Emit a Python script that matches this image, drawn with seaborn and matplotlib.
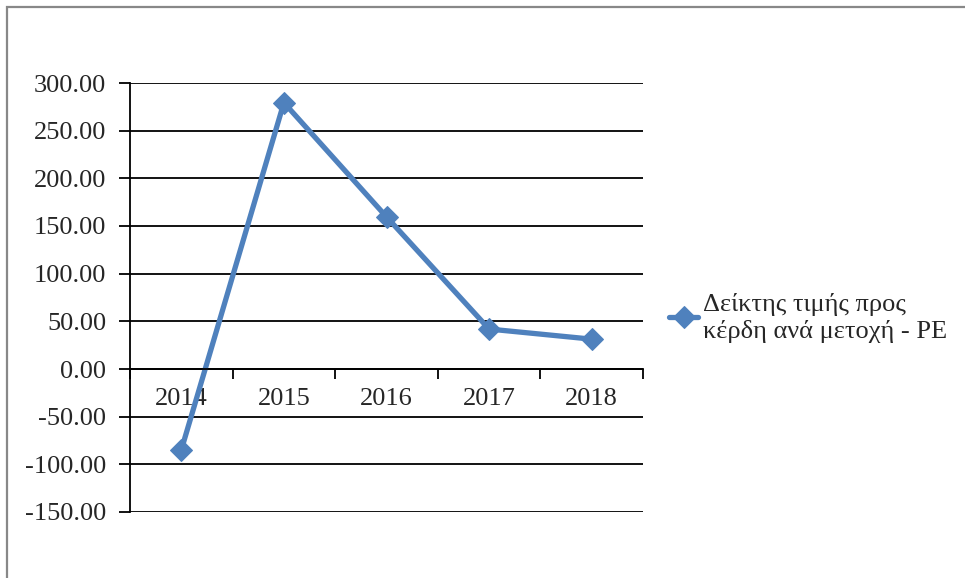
import matplotlib
matplotlib.use("Agg")
import matplotlib.pyplot as plt
from matplotlib.patches import Rectangle
import seaborn as sns
import pandas as pd

years = ["2014", "2015", "2016", "2017", "2018"]
pe_ratio = [-84.9, 279.4, 159.6, 41.9, 31.3]
series_name = "Δείκτης τιμής προς\nκέρδη ανά μετοχή - PE"
y_ticks = [-150, -100, -50, 0, 50, 100, 150, 200, 250, 300]

df = pd.DataFrame({"year": years, "pe": pe_ratio})

sns.set_theme(style="white")
plt.rcParams["font.family"] = ["Liberation Serif", "DejaVu Serif"]

FS = 19
W, H = 965, 578
fig = plt.figure(figsize=(W / 100, H / 100), dpi=100)
fig.patch.set_facecolor("white")

# outer chart frame (runs off the right and bottom edges)
fig.add_artist(Rectangle((7 / W, -0.5), 2.0, 0.5 + (H - 7) / H, transform=fig.transFigure,
                         fill=False, edgecolor="#888888", linewidth=1.6))

ax = fig.add_axes([130 / W, 1 - 512 / H, 513 / W, 429 / H])
ax.set_facecolor("white")

color = "#4F81BD"
sns.lineplot(data=df, x="year", y="pe", ax=ax, color=color, linewidth=3.8,
             marker="D", markersize=11.5, markeredgecolor=color,
             label=series_name, sort=False)

ax.set_xlim(-0.5, 4.5)
ax.set_ylim(-150, 300)
ax.set_yticks(y_ticks)
ax.set_yticklabels([f"{v:.2f}" for v in y_ticks])
ax.yaxis.grid(True, color="black", linewidth=1.3)
ax.xaxis.grid(False)
ax.set_axisbelow(True)

# category boundaries carry the ticks; labels sit at the centres
ax.set_xticks([i - 0.5 for i in range(len(years) + 1)])
ax.set_xticklabels([""] * (len(years) + 1))
ax.set_xticks(range(len(years)), minor=True)
ax.set_xticklabels(years, minor=True)
ax.tick_params(axis="x", which="major", direction="out", length=7, width=1.3,
               color="black", bottom=True)
ax.tick_params(axis="x", which="minor", length=0, pad=14, labelsize=FS, bottom=True)
ax.tick_params(axis="y", direction="out", length=8, width=1.3, color="black", pad=9,
               left=True, labelsize=FS)

for side in ["top", "right"]:
    ax.spines[side].set_visible(False)
ax.spines["left"].set_color("black")
ax.spines["left"].set_linewidth(1.3)
ax.spines["bottom"].set_position(("data", 0))
ax.spines["bottom"].set_color("black")
ax.spines["bottom"].set_linewidth(1.3)

ax.set_xlabel("")
ax.set_ylabel("")

leg = ax.legend(loc="center left", bbox_to_anchor=(669 / W, 1 - 318 / H),
                bbox_transform=fig.transFigure, frameon=False, fontsize=FS,
                handlelength=1.1, handletextpad=0.2, borderaxespad=0, borderpad=0)
for t in leg.get_texts():
    t.set_linespacing(1.2)

fig.savefig("out.png", dpi=100, facecolor="white")
